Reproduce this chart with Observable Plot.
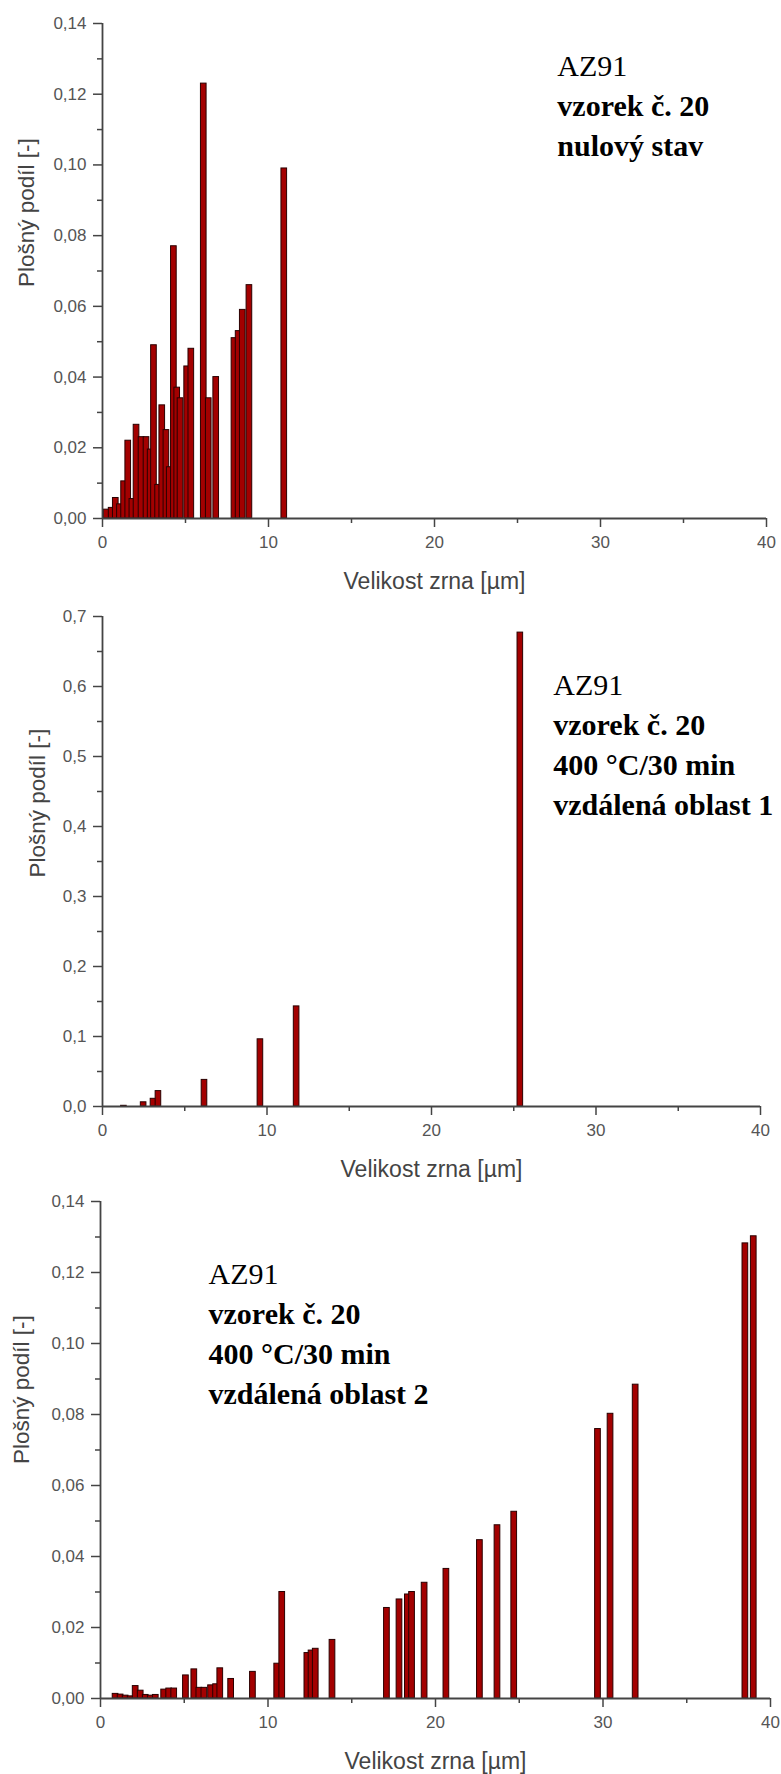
<!DOCTYPE html>
<html>
<head>
<meta charset="utf-8">
<script src="https://cdn.jsdelivr.net/npm/d3@7"></script>
<script src="https://cdn.jsdelivr.net/npm/@observablehq/plot@0.6"></script>
<style>
  html, body { margin: 0; padding: 0; background: #fff; }
  #chart div, #chart svg { display: block; }
</style>
</head>
<body>
<div id="chart"></div>
<script>
// ---------- data ----------
const xLabel = "Velikost zrna [µm]";
const yLabel = "Plošný podíl [-]";
const xTicks = [0, 10, 20, 30, 40];
const xMinorTicks = [5, 15, 25, 35];

// Panel 1: nulový stav
const p1Size = [0.25, 0.55, 0.8, 1.05, 1.3, 1.55, 1.8, 2.05, 2.35, 2.65, 2.9, 3.1, 3.35, 3.6, 3.85, 4.05, 4.3, 4.5, 4.7, 5.1, 5.35, 6.1, 6.4, 6.85, 7.95, 8.2, 8.45, 8.85, 10.95];
const p1Share = [0.0025, 0.003, 0.0058, 0.004, 0.0105, 0.022, 0.0055, 0.0265, 0.023, 0.023, 0.0195, 0.049, 0.0095, 0.032, 0.025, 0.0145, 0.077, 0.037, 0.034, 0.043, 0.048, 0.123, 0.034, 0.040, 0.051, 0.053, 0.059, 0.066, 0.099];
const p1YTicks = [0, 0.02, 0.04, 0.06, 0.08, 0.10, 0.12, 0.14];
const p1YMinor = [0.01, 0.03, 0.05, 0.07, 0.09, 0.11, 0.13];
const p1Note = ["AZ91", "vzorek č. 20", "nulový stav"];

// Panel 2: 400 °C/30 min, vzdálená oblast 1
const p2Size = [1.3, 2.5, 3.1, 3.4, 6.2, 9.6, 11.8, 25.4];
const p2Share = [0.001, 0.006, 0.011, 0.022, 0.038, 0.096, 0.143, 0.677];
const p2YTicks = [0, 0.1, 0.2, 0.3, 0.4, 0.5, 0.6, 0.7];
const p2YMinor = [0.05, 0.15, 0.25, 0.35, 0.45, 0.55, 0.65];
const p2Note = ["AZ91", "vzorek č. 20", "400 °C/30 min", "vzdálená oblast 1"];

// Panel 3: 400 °C/30 min, vzdálená oblast 2
const p3Size = [0.9, 1.2, 1.5, 1.8, 2.1, 2.4, 2.7, 3.0, 3.3, 3.8, 4.1, 4.4, 5.1, 5.6, 5.9, 6.2, 6.6, 6.9, 7.15, 7.8, 9.1, 10.55, 10.85, 12.35, 12.6, 12.85, 13.85, 17.1, 17.85, 18.35, 18.6, 19.35, 20.65, 22.65, 23.7, 24.7, 29.7, 30.45, 31.95, 38.5, 39.0];
const p3Share = [0.0013, 0.0011, 0.0008, 0.0006, 0.0035, 0.0022, 0.001, 0.0008, 0.001, 0.0025, 0.0028, 0.0028, 0.0065, 0.0082, 0.003, 0.003, 0.0037, 0.004, 0.0085, 0.0055, 0.0075, 0.0098, 0.030, 0.0128, 0.0135, 0.014, 0.0165, 0.0255, 0.0279, 0.0293, 0.030, 0.0326, 0.0365, 0.0446, 0.0488, 0.0526, 0.0759, 0.0802, 0.0884, 0.1282, 0.1302];
const p3YTicks = p1YTicks;
const p3YMinor = p1YMinor;
const p3Note = ["AZ91", "vzorek č. 20", "400 °C/30 min", "vzdálená oblast 2"];

// ---------- drawing ----------
const axisColor = "#444";
const labelColor = "#555";
const barFill = "#a30000";
const barStroke = "#2a0000";

function panel({sizes, shares, yDomain, yTicks, yMinor, yFmt, barHalf, note, noteX, noteY,
                height, marginTop, marginBottom, marginLeft, marginRight, yLabelDx, yLabelDy}) {
  const rows = sizes.map((s, i) => ({size: s, share: shares[i]}));
  const noteMarks = note.map((t, i) => Plot.text([t], {
    x: () => noteX, y: () => noteY, dy: i * 40,
    text: d => d, textAnchor: "start", lineAnchor: "middle",
    fontFamily: "Liberation Serif, Times New Roman, serif", fontSize: 30,
    fontWeight: i === 0 ? "normal" : "bold", fill: "#000"
  }));
  return Plot.plot({
    width: 781, height, marginTop, marginBottom, marginLeft, marginRight,
    style: {fontFamily: "Liberation Sans, Arial, sans-serif", background: "#fff", color: labelColor, overflow: "visible"},
    x: {domain: [0, 40]},
    y: {domain: yDomain},
    marks: [
      Plot.rectY(rows, {x1: d => d.size - barHalf, x2: d => d.size + barHalf, y1: 0, y2: "share",
        fill: barFill, stroke: barStroke, strokeWidth: 1}),
      Plot.axisX({ticks: xTicks, tickSize: 9, tickPadding: 8, fontSize: 17, label: null,
        stroke: axisColor, strokeWidth: 1.5, fill: labelColor, tickFormat: d => String(d)}),
      Plot.axisX({ticks: xMinorTicks, tickSize: 5, text: null, label: null, stroke: axisColor, strokeWidth: 1.5}),
      Plot.axisY({ticks: yTicks, tickSize: 9, tickPadding: 7, fontSize: 17, label: null,
        stroke: axisColor, strokeWidth: 1.5, fill: labelColor, tickFormat: yFmt}),
      Plot.axisY({ticks: yMinor, tickSize: 5, text: null, label: null, stroke: axisColor, strokeWidth: 1.5}),
      Plot.ruleY([0], {stroke: axisColor, strokeWidth: 1.8}),
      Plot.ruleX([0], {stroke: axisColor, strokeWidth: 1.8}),
      Plot.text([xLabel], {frameAnchor: "bottom", dy: 63, text: d => d, fontSize: 23, fill: "#444", lineAnchor: "middle"}),
      Plot.text([yLabel], {frameAnchor: "left", dx: yLabelDx, dy: yLabelDy, rotate: -90, text: d => d,
        fontSize: 22.5, fill: "#444", lineAnchor: "middle"}),
      ...noteMarks
    ]
  });
}

const fmt2 = d => d.toFixed(2).replace(".", ",");
const fmt1 = d => d.toFixed(1).replace(".", ",");

const root = document.getElementById("chart");
root.append(panel({sizes: p1Size, shares: p1Share, yDomain: [0, 0.14], yTicks: p1YTicks, yMinor: p1YMinor,
  yFmt: fmt2, barHalf: 0.17, note: p1Note, noteX: 27.4, noteY: 0.1278,
  height: 600, marginTop: 23, marginBottom: 82, marginLeft: 102, marginRight: 15, yLabelDx: -76, yLabelDy: 16}));
root.append(panel({sizes: p2Size, shares: p2Share, yDomain: [0, 0.7], yTicks: p2YTicks, yMinor: p2YMinor,
  yFmt: fmt1, barHalf: 0.17, note: p2Note, noteX: 27.4, noteY: 0.601,
  height: 585, marginTop: 16, marginBottom: 79, marginLeft: 102, marginRight: 21, yLabelDx: -65, yLabelDy: 16}));
root.append(panel({sizes: p3Size, shares: p3Share, yDomain: [0, 0.14], yTicks: p3YTicks, yMinor: p3YMinor,
  yFmt: fmt2, barHalf: 0.17, note: p3Note, noteX: 6.45, noteY: 0.1194,
  height: 589, marginTop: 16, marginBottom: 76, marginLeft: 100, marginRight: 11, yLabelDx: -79, yLabelDy: 14}));
</script>
</body>
</html>
